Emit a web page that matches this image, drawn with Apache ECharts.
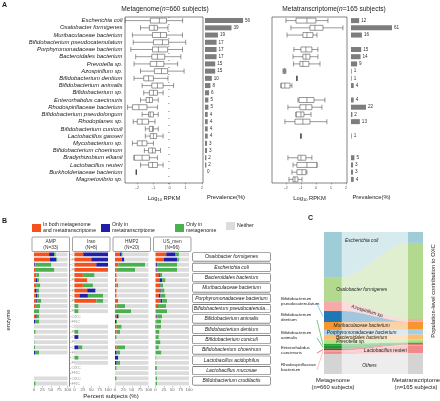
<!DOCTYPE html>
<html><head><meta charset="utf-8">
<script src="https://cdn.jsdelivr.net/npm/echarts@6/dist/echarts.min.js"></script>
<style>html,body{margin:0;padding:0;background:#fff}#c{width:440px;height:401px}</style>
</head><body><div id="c"></div>
<script>
// ---------------- Panel A data ----------------
const speciesA = ['Escherichia coli','Oxalobacter formigenes','Muribaculaceae bacterium','Bifidobacterium pseudocatenulatum','Porphyromonadaceae bacterium','Bacteroidales bacterium','Prevotella sp.','Azospirillum sp.','Bifidobacterium dentium','Bifidobacterium animalis','Bifidobacterium sp.','Enterorhabdus caecimuris','Rhodospirillaceae bacterium','Bifidobacterium pseudolongum','Rhodoplanes sp.','Bifidobacterium cuniculi','Lactobacillus gasseri','Mycobacterium sp.','Bifidobacterium choerinum','Bradyrhizobium elkanii','Lactobacillus reuteri','Burkholderiaceae bacterium','Magnetovibrio sp.'];
const prevalenceMG = [56,39,19,17,17,17,15,15,10,8,6,5,5,4,4,4,4,3,3,2,2,0,null];
const prevalenceMT = [12,61,16,null,15,14,9,1,1,4,null,4,22,2,13,null,1,null,null,5,3,3,4];
// [min, Q1, median, Q3, max] of log10 RPKM
const boxMG = [
 [-2.75,-1.19,-0.63,-0.19,0.81],[-1.8,-1.25,-0.95,-0.75,-0.1],[-2.3,-1.06,-0.56,-0.19,0.8],
 [-2.25,-1.0,-0.44,-0.06,1.0],[-2.4,-1.06,-0.69,-0.12,0.8],[-2.1,-1.1,-0.75,-0.3,0.7],
 [-2.2,-1.2,-0.8,-0.35,0.5],[-1.8,-0.94,-0.5,-0.12,0.9],[-2.2,-1.6,-1.3,-1.0,-0.1],
 [-1.7,-1.1,-0.75,-0.4,0.25],[-1.6,-1.25,-1.0,-0.75,-0.4],[-1.8,-1.45,-1.25,-1.06,-0.7],
 [-2.6,-2.3,-1.9,-1.4,-0.75],[-1.7,-1.3,-1.2,-1.0,-0.7],[-2.25,-2.0,-1.7,-1.3,-0.9],
 [-1.5,-1.25,-1.06,-1.0,-0.7],[-1.5,-1.2,-1.0,-0.8,-0.4],[-2.3,-2.0,-1.7,-1.4,-1.0],
 [-1.56,-1.3,-1.06,-0.88,-0.56],[-2.2,-2.2,-1.7,-1.25,-0.75],[-1.8,-1.3,-1.06,-0.75,-0.4],
 [-2.06,-2.06,-2.06,-2.06,-2.06],null];
const boxMT = [
 [-2.0,-1.33,-0.6,0.0,0.8],[-1.67,-0.4,-0.07,0.47,1.8],[-1.93,-0.87,-0.6,-0.2,0.07],
 null,[-1.47,-1.0,-0.67,-0.27,0.13],[-1.53,-0.87,-0.67,-0.4,0.13],
 [-1.5,-1.07,-0.87,-0.47,0.27],[-2.2,-2.15,-2.1,-2.05,-2.0],[-1.27,-1.27,-1.27,-1.27,-1.27],
 [-2.33,-2.33,-2.07,-1.73,-1.6],null,[-1.2,-1.13,-0.6,-0.13,0.6],
 [-1.87,-1.07,-0.67,-0.27,0.4],[-1.33,-1.33,-1.0,-0.8,-0.33],[-2.07,-1.4,-0.87,-0.4,0.73],
 null,[-1.0,-1.0,-1.0,-1.0,-1.0],null,
 null,[-1.87,-1.2,-1.0,-0.67,-0.27],[-1.53,-1.27,-0.6,0.07,0.07],
 [-1.6,-1.27,-0.93,-0.67,-0.6],[-1.8,-1.53,-1.4,-1.2,-0.93]];
const rpkmTicks = [-2,-1,0,1,2];

// ---------------- Panel B data ----------------
const speciesB = ['Oxalobacter formigenes','Escherichia coli','Bacteroidales bacterium','Muribaculaceae bacterium','Porphyromonadaceae bacterium','Bifidobacterium pseudocatenulatum','Bifidobacterium animalis','Bifidobacterium dentium','Bifidobacterium cuniculi','Bifidobacterium choerinum','Lactobacillus acidophilus','Lactobacillus mucosae','Bifidobacterium crudilactis'];
const cohorts = ['AMP','Iran','HMP2','US_men'];
const cohortN = [33,8,20,96];
const enzymes = ['OXC','FRC'];
const statusNames = ['In both metagenome\nand metatranscriptome','Only in\nmetatranscriptome','Only in\nmetagenome','Neither'];
// per cohort: [both, onlyMT, onlyMG] percent, for OXC and FRC; null = not shown
const AMP_OXC = [[45,15,5],[1,3,48],[7,0,8],[5,2,12],[5,4,6],[3,0,15],[4,4,8],[0,0,0],[0,0,0],[0,0,3],null,null,[0,0,0]];
const AMP_FRC = [[47,20,3],[3,0,58],[5,4,6],[3,5,8],[7,3,12],[0,0,16],[0,3,13],[0,0,5],[0,0,2],[0,3,12],null,null,[0,0,5]];
const Iran_OXC = [[26,74,0],[65,35,0],[25,0,35],[25,0,30],[15,25,45],[0,0,12],null,[0,0,0],[0,12,0],[0,12,12],[0,0,12],null,null];
const Iran_FRC = [[50,50,0],[100,0,0],[38,0,0],[38,25,0],[65,0,20],[0,0,12],null,[0,0,12],[0,0,0],[0,0,0],[0,0,0],null,null];
const HMP2_OXC = [[15,5,3],[10,0,80],[5,0,0],[5,0,5],[5,0,0],[5,0,25],[5,5,3],[5,0,15],[0,0,5],[5,0,25],[0,10,0],[0,0,5],[0,0,5]];
const HMP2_FRC = [[20,8,0],[5,0,55],[5,0,0],[5,0,0],[10,0,0],[0,0,48],[0,3,3],[5,0,10],[0,0,0],[0,5,10],[0,5,10],[0,0,0],[0,0,0]];
const USmen_OXC = [[32,28,10],[2,3,60],[10,3,7],[12,3,8],[10,5,15],[5,2,25],[3,2,15],[0,2,15],[0,0,10],[0,0,10],[0,0,3],[0,2,3],[0,0,5]];
const USmen_FRC = [[25,40,5],[3,2,60],[12,8,10],[15,2,10],[15,5,15],[0,0,35],[2,0,15],[0,0,12],[0,0,15],[0,0,18],[0,0,3],[0,0,3],[0,0,5]];
const percentTicks = [0,25,50,75,100];

// ---------------- Panel C data ----------------
const speciesC = ['Escherichia coli','Oxalobacter formigenes','Azospirillum sp.','Bifidobacterium pseudocatenulatum','Muribaculaceae bacterium','Porphyromonadaceae bacterium','Bacteroidales bacterium','Prevotella sp.','Bifidobacterium dentium','Bifidobacterium animalis','Enterorhabdus caecimuris','Rhodospirillaceae bacterium','Lactobacillus reuteri','Others'];
const contribMG = [31.7,17.6,6.3,7.7,5.6,3.5,3.5,2.8,1.4,2.1,1.1,1.1,1.4,14.1];
const contribMT = [7.7,53.5,2.0,0,5.6,3.5,3.5,2.1,0.4,0.7,0.4,0.4,5.6,14.6];

// ---------------- styles ----------------
const FONT = 'Liberation Sans, Arial, sans-serif';
const statusColors = ['#f4511e','#1f1fa8','#4caf50','#dcdcdc'];
const cColors = ['#9fcdd7','#b3d98e','#f6a9a9','#1f78b4','#f7962f','#a6cee3','#fdbf6f','#b2df8a','#33a02c','#1a9641','#e31a1c','#fb9a99','#f08a8a','#d4d4d4'];

const chart = echarts.init(document.getElementById('c'));

const grids = [], xAxes = [], yAxes = [], series = [];
function addGrid(g){ grids.push(g); return grids.length-1; }

// ---- Panel A ----
const aTop = 17, aH = 166;
const gA = [
  addGrid({left:125, top:aTop, width:78, height:aH, show:true, borderColor:'#333', borderWidth:0.6}),
  addGrid({left:205, top:aTop, width:42, height:aH}),
  addGrid({left:272, top:aTop, width:75, height:aH, show:true, borderColor:'#333', borderWidth:0.6}),
  addGrid({left:351, top:aTop, width:41, height:aH})
];
const rpkmName = {name:'{a|Log}{s|10}{a| RPKM}', nameLocation:'middle', nameGap:11,
  nameTextStyle:{rich:{a:{fontSize:5.8,fontFamily:FONT,color:'#222'}, s:{fontSize:4,fontFamily:FONT,color:'#222',padding:[4,0,0,0]}}}};
function rpkmAxis(gi, min, max){
  return Object.assign({gridIndex:gi, type:'value', min:min, max:max,
    axisLine:{show:false}, splitLine:{show:false},
    axisTick:{show:true, length:1.5, lineStyle:{color:'#555',width:0.5}, customValues:rpkmTicks},
    axisLabel:{fontSize:4.3, color:'#666', margin:2.5, fontFamily:FONT, customValues:rpkmTicks}}, rpkmName);
}
function prevAxis(gi, max){
  return {gridIndex:gi, type:'value', min:0, max:max, axisLine:{show:false}, axisTick:{show:false}, axisLabel:{show:false}, splitLine:{show:false},
    name:'Prevalence(%)', nameLocation:'middle', nameGap:11, nameTextStyle:{fontSize:5.8, fontFamily:FONT, color:'#222'}};
}
xAxes.push(rpkmAxis(gA[0], -2.76, 2.07));
xAxes.push(prevAxis(gA[1], 61.8));
xAxes.push(rpkmAxis(gA[2], -2.93, 2.07));
xAxes.push(prevAxis(gA[3], 60.3));
yAxes.push({gridIndex:gA[0], type:'category', data:speciesA, inverse:true, axisLine:{show:false},
  axisTick:{show:true, length:1.5, lineStyle:{color:'#555',width:0.5}},
  axisLabel:{fontSize:5.9, fontStyle:'italic', color:'#222', margin:2.5, fontFamily:FONT, interval:0}});
for (let k=1;k<4;k++) yAxes.push({gridIndex:gA[k], type:'category', data:speciesA, inverse:true, show:false});

function boxSeries(xi, data){
  return {type:'boxplot', xAxisIndex:xi, yAxisIndex:xi, boxWidth:[5,5], silent:true,
    itemStyle:{color:'#fff', borderColor:'#444', borderWidth:0.55},
    data: data.map(d => d ? d : ['-','-','-','-','-'])};
}
function prevSeries(xi, data){
  return {type:'bar', xAxisIndex:xi, yAxisIndex:xi, barWidth:5, silent:true,
    itemStyle:{color:'#7d7d7d'}, data: data.map(d => d===null ? '-' : d),
    label:{show:true, position:'right', distance:2, fontSize:4.6, color:'#333', fontFamily:FONT}};
}
series.push(boxSeries(0, boxMG));
series.push(prevSeries(1, prevalenceMG));
series.push(boxSeries(2, boxMT));
series.push(prevSeries(3, prevalenceMT));

// ---- Panel B ----
const bTop = 251.8, bH = 134.3;
const facetLeft = [34, 74.5, 115, 155.5], facetW = 33.5;
const facetData = [[AMP_OXC, AMP_FRC],[Iran_OXC, Iran_FRC],[HMP2_OXC, HMP2_FRC],[USmen_OXC, USmen_FRC]];
facetLeft.forEach((L, f) => {
  const gi = addGrid({left:L, top:bTop, width:facetW, height:bH});
  const xi = xAxes.length;
  xAxes.push({gridIndex:gi, type:'value', min:0, max:100, interval:25, axisLine:{show:false}, splitLine:{show:false},
    axisTick:{show:true, length:1.5, lineStyle:{color:'#888', width:0.5}},
    axisLabel:{fontSize:4.3, color:'#666', margin:2, fontFamily:FONT}});
  const yi = yAxes.length;
  yAxes.push({gridIndex:gi, type:'category', data:speciesB, inverse:true,
    axisLine:{show:false}, axisTick:{show:false}, axisLabel:{show:false}});
  enzymes.forEach((enz, e) => {
    const rows = facetData[f][e];
    for (let s=0; s<4; s++){
      series.push({type:'bar', name:statusNames[s], xAxisIndex:xi, yAxisIndex:yi, stack:'f'+f+enz,
        barWidth:3.8, barGap:'36%', silent:true, itemStyle:{color:statusColors[s]},
        data: rows.map(r => r===null ? '-' : (s<3 ? r[s] : 100 - r[0]-r[1]-r[2]))});
    }
  });
  if (f === 0){
    const enzLabels = []; speciesB.forEach(()=>{ enzLabels.push('OXC'); enzLabels.push('FRC'); });
    yAxes.push({gridIndex:gi, type:'category', data:enzLabels, inverse:true, offset:2,
      axisLine:{show:true, lineStyle:{color:'#333', width:0.6}},
      axisTick:{show:true, length:1.5, alignWithLabel:true, lineStyle:{color:'#888', width:0.5}},
      axisLabel:{fontSize:4.3, color:'#999', margin:2, interval:0, fontFamily:FONT}});
  }
  if (f === 3){
    yAxes.push({gridIndex:gi, type:'category', data:speciesB, inverse:true, position:'right',
      axisLine:{show:false}, axisTick:{show:false},
      axisLabel:{fontSize:5, fontStyle:'italic', color:'#222', margin:42.5, align:'center', interval:0,
        width:77, overflow:'truncate', borderColor:'#555', borderWidth:0.6, borderRadius:0.5,
        padding:[1.6,0,1.2,0], fontFamily:FONT, backgroundColor:'#fff'}});
  }
});

// ---- Panel C ----
const gC = addGrid({left:324, top:232, width:99, height:142});
const xC = xAxes.length; xAxes.push({gridIndex:gC, type:'value', min:0, max:1, show:false});
const yC = yAxes.length; yAxes.push({gridIndex:gC, type:'value', min:0, max:100, inverse:true, show:false});
const colL = 0.18, colR = 0.848;
const sumMG = contribMG.reduce((a,b)=>a+b,0), sumMT = contribMT.reduce((a,b)=>a+b,0);
const cumMG = [], cumMT = [];
{ let a=0,b=0; for (let i=0;i<speciesC.length;i++){ cumMG.push(a); cumMT.push(b); a+=contribMG[i]/sumMG*100; b+=contribMT[i]/sumMT*100; } }
// label placement (style): [xFrac, bandFrac, rotation]
const cFlowLabels = {0:[0.38,0.22,0], 1:[0.38,0.55,0], 2:[0.44,0.5,-0.3], 4:[0.38,0.5,0], 5:[0.38,0.5,0], 6:[0.38,0.5,0], 7:[0.27,0.5,0], 12:[0.62,0.55,0], 13:[0.46,0.6,0]};
function smooth(t){ return t*t*(3-2*t); }
series.push({type:'custom', coordinateSystem:'cartesian2d', xAxisIndex:xC, yAxisIndex:yC, silent:true,
  data: speciesC.map((s,i)=>[i]),
  renderItem: function(params, api){
    const i = api.value(0);
    const a0 = cumMG[i], a1 = a0 + contribMG[i]/sumMG*100;
    const b0 = cumMT[i], b1 = b0 + contribMT[i]/sumMT*100;
    const col = cColors[i];
    const top = [], bot = [];
    const N = 24;
    for (let k=0;k<=N;k++){
      const t = k/N, s = smooth(t), x = colL + (colR-colL)*t;
      top.push(api.coord([x, a0 + (b0-a0)*s]));
      bot.push(api.coord([x, a1 + (b1-a1)*s]));
    }
    const children = [{type:'polygon', shape:{points: top.concat(bot.reverse())}, style:{fill:col, opacity:0.42}}];
    const pL0 = api.coord([0,a0]), pL1 = api.coord([colL,a1]);
    const pR0 = api.coord([colR,b0]), pR1 = api.coord([1,b1]);
    children.push({type:'rect', shape:{x:pL0[0], y:pL0[1], width:pL1[0]-pL0[0], height:pL1[1]-pL0[1]}, style:{fill:col}});
    children.push({type:'rect', shape:{x:pR0[0], y:pR0[1], width:pR1[0]-pR0[0], height:pR1[1]-pR0[1]}, style:{fill:col}});
    const lab = cFlowLabels[i];
    if (lab){
      const t = (lab[0]-colL)/(colR-colL), s = smooth(Math.max(0,Math.min(1,t)));
      const yt = a0 + (b0-a0)*s, yb = a1 + (b1-a1)*s;
      const p = api.coord([lab[0], yt + (yb-yt)*lab[1]]);
      children.push({type:'text', x:p[0], y:p[1], rotation:lab[2], style:{text:speciesC[i], fontSize:4.8, fontStyle:'italic', fill:'#222', align:'center', verticalAlign:'middle', fontFamily:FONT}});
    }
    return {type:'group', children:children};
  }
});

// ---------------- graphics (texts, headers) ----------------
const graphic = [];
function txt(x,y,text,opt){ graphic.push(Object.assign({type:'text', x:x, y:y, style:Object.assign({text:text, fontFamily:FONT, fill:'#222', fontSize:6}, opt||{})})); }
txt(2,2,'A',{fontWeight:'bold', fontSize:7});
txt(2,218,'B',{fontWeight:'bold', fontSize:7});
txt(308,215,'C',{fontWeight:'bold', fontSize:7});
graphic.push({type:'text', x:165, y:9, style:{rich:{a:{fontSize:6.6,fontFamily:FONT,fill:'#222'}, i:{fontSize:6.6,fontStyle:'italic',fontFamily:FONT,fill:'#222'}}, text:'{a|Metagenome(}{i|n}{a|=660 subjects)}', align:'center', verticalAlign:'middle'}});
graphic.push({type:'text', x:334, y:9, style:{rich:{a:{fontSize:6.6,fontFamily:FONT,fill:'#222'}, i:{fontSize:6.6,fontStyle:'italic',fontFamily:FONT,fill:'#222'}}, text:'{a|Metatranscriptome(}{i|n}{a|=165 subjects)}', align:'center', verticalAlign:'middle'}});
// facet strip headers
facetLeft.forEach((L,f)=>{
  graphic.push({type:'rect', shape:{x:L-2, y:237, width:facetW+4, height:14.5, r:1}, style:{fill:'#fff', stroke:'#666', lineWidth:0.6}});
  graphic.push({type:'text', x:L+facetW/2, y:244.5, style:{text:cohorts[f]+'\n(N='+cohortN[f]+')', fontSize:4.8, fill:'#333', fontFamily:FONT, align:'center', verticalAlign:'middle', lineHeight:5.6}});
});
graphic.push({type:'text', x:8, y:320, rotation:Math.PI/2, style:{text:'enzyme', fontSize:6, fill:'#222', fontFamily:FONT, align:'center', verticalAlign:'middle'}});
graphic.push({type:'text', x:111, y:396, style:{text:'Percent subjects (%)', fontSize:6, fill:'#222', fontFamily:FONT, align:'center', verticalAlign:'middle'}});
// panel C axis texts
graphic.push({type:'text', x:333, y:384, style:{text:'Metagenome\n(n=660 subjects)', fontSize:5.8, fill:'#222', fontFamily:FONT, align:'center', verticalAlign:'middle', lineHeight:7}});
graphic.push({type:'text', x:416, y:384, style:{text:'Metatranscriptome\n(n=165 subjects)', fontSize:5.8, fill:'#222', fontFamily:FONT, align:'center', verticalAlign:'middle', lineHeight:7}});
graphic.push({type:'text', x:433, y:291, rotation:Math.PI/2, style:{text:'Population-level contribution to OXC', fontSize:5.8, fill:'#222', fontFamily:FONT, align:'center', verticalAlign:'middle'}});
// panel C left labels with pointers
const cSideLabels = [['Bifidobacterium\npseudocatenulatum',281,301,3,'#3fa9d6'],['Bifidobacterium\ndentium',281,317,8,'#33a02c'],['Bifidobacterium\nanimalis',281,335,9,'#1a9641'],['Enterorhabdus\ncaecimuris',281,350,10,'#e31a1c'],['Rhodospirillaceae\nbacterium',281,367,11,'#fb9a99']];
cSideLabels.forEach(l=>{
  graphic.push({type:'text', x:l[1], y:l[2], style:{text:l[0], fontSize:4.4, fill:'#222', fontFamily:FONT, align:'left', verticalAlign:'middle', lineHeight:5}});
});

const option = {
  animation:false,
  textStyle:{fontFamily:FONT},
  grid:grids, xAxis:xAxes, yAxis:yAxes, series:series,
  legend: statusNames.map((n,i)=>({data:[n], left:[32,101,175,226][i], top:222, padding:0, itemWidth:9, itemHeight:8, icon:'rect', selectedMode:false,
     textStyle:{fontSize:5.2, color:'#222', lineHeight:6, fontFamily:FONT, padding:[0,0,0,-3]}})),
  graphic: graphic
};
chart.setOption(option);

// pointer lines for panel C side labels (positions via the chart's coordinate conversion)
const extra = [];
cSideLabels.forEach(l=>{
  const i = l[3];
  const mid = cumMG[i] + contribMG[i]/sumMG*50;
  const p = chart.convertToPixel({gridIndex:gC}, [0, mid]);
  extra.push({type:'line', shape:{x1:l[1]+36, y1:l[2]+3, x2:p[0]-1, y2:p[1]}, style:{stroke:l[4], lineWidth:0.6}});
});
chart.setOption({graphic: graphic.concat(extra)});
</script>
</body></html>
